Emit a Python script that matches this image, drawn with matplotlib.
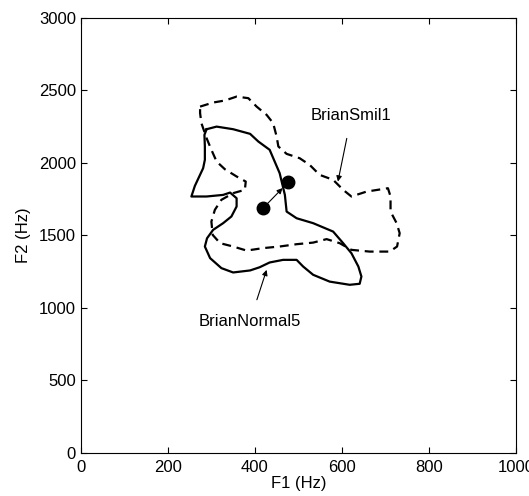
import numpy as np
import matplotlib
matplotlib.use("Agg")
import matplotlib.pyplot as plt

plt.rcParams['font.family'] = ['Liberation Sans', 'DejaVu Sans']

# BrianNormal5 contour (solid), F1/F2 in Hz
normal_f1 = [289, 312, 350, 389, 408, 434, 457, 469, 473, 496, 534, 580, 603, 622,
             638, 645, 641, 618, 572, 534, 511, 496, 465, 434, 411, 389, 350, 323,
             297, 285, 290, 304, 327, 346, 358, 358, 343, 327, 289, 254, 262, 281,
             285, 285, 284, 289]
normal_f2 = [2232, 2250, 2232, 2200, 2147, 2090, 1929, 1779, 1664, 1618, 1584, 1526,
             1446, 1377, 1285, 1216, 1166, 1159, 1181, 1228, 1285, 1331, 1331, 1313,
             1280, 1258, 1244, 1274, 1343, 1423, 1480, 1538, 1584, 1630, 1699, 1756,
             1795, 1779, 1768, 1768, 1841, 1963, 2021, 2113, 2193, 2232]

# BrianSmil1 contour (dashed)
smil_f1 = [274, 304, 331, 358, 385, 404, 427, 442, 450, 454, 473, 503, 526, 549, 580,
           603, 622, 657, 706, 712, 712, 726, 733, 727, 710, 664, 622, 595, 565, 534,
           496, 457, 419, 381, 350, 320, 303, 300, 308, 323, 350, 377, 379, 358, 331,
           312, 300, 289, 277, 274, 274]
smil_f2 = [2388, 2416, 2430, 2457, 2446, 2388, 2331, 2274, 2182, 2113, 2062, 2032,
           1986, 1917, 1883, 1814, 1768, 1802, 1825, 1768, 1664, 1584, 1515, 1423,
           1388, 1388, 1400, 1446, 1474, 1450, 1439, 1423, 1412, 1395, 1423, 1446,
           1503, 1595, 1676, 1745, 1791, 1814, 1871, 1906, 1956, 2009, 2090, 2170,
           2274, 2343, 2388]

# centroids (normal -> smile)
dot_f1 = [419, 477]
dot_f2 = [1688, 1867]

fig = plt.figure(figsize=(5.29, 4.96), dpi=100)
ax = fig.add_axes([0.153, 0.087, 0.822, 0.877])

ax.plot(normal_f1, normal_f2, color='black', linewidth=1.6, linestyle='-')
ax.plot(smil_f1, smil_f2, color='black', linewidth=1.6, linestyle=(0, (4, 2.6)))
ax.plot(dot_f1, dot_f2, 'o', color='black', markersize=9, linestyle='none')
ax.annotate('', xy=(dot_f1[1], dot_f2[1]), xytext=(dot_f1[0], dot_f2[0]),
            arrowprops=dict(arrowstyle='-|>', color='black', lw=0.8,
                            shrinkA=4, shrinkB=6, mutation_scale=8))

ax.annotate('BrianSmil1', xy=(591, 1871), xytext=(622, 2324), fontsize=12,
            ha='center', va='center',
            arrowprops=dict(arrowstyle='-|>', color='black', lw=0.8,
                            shrinkA=9, shrinkB=0, mutation_scale=8))
ax.annotate('BrianNormal5', xy=(427, 1262), xytext=(388, 903), fontsize=12,
            ha='center', va='center',
            arrowprops=dict(arrowstyle='-|>', color='black', lw=0.8,
                            shrinkA=9, shrinkB=0, mutation_scale=8))

ax.set_xlim(0, 1000)
ax.set_ylim(0, 3000)
ax.set_xticks([0, 200, 400, 600, 800, 1000])
ax.set_yticks([0, 500, 1000, 1500, 2000, 2500, 3000])
ax.tick_params(direction='in', top=True, right=True, length=4, labelsize=12,
               width=0.8)
ax.tick_params(axis='x', pad=5)
ax.set_xlabel('F1 (Hz)', fontsize=12, labelpad=1)
ax.set_ylabel('F2 (Hz)', fontsize=12, labelpad=6)
for s in ax.spines.values():
    s.set_linewidth(0.8)

fig.savefig('out.png', dpi=100)
